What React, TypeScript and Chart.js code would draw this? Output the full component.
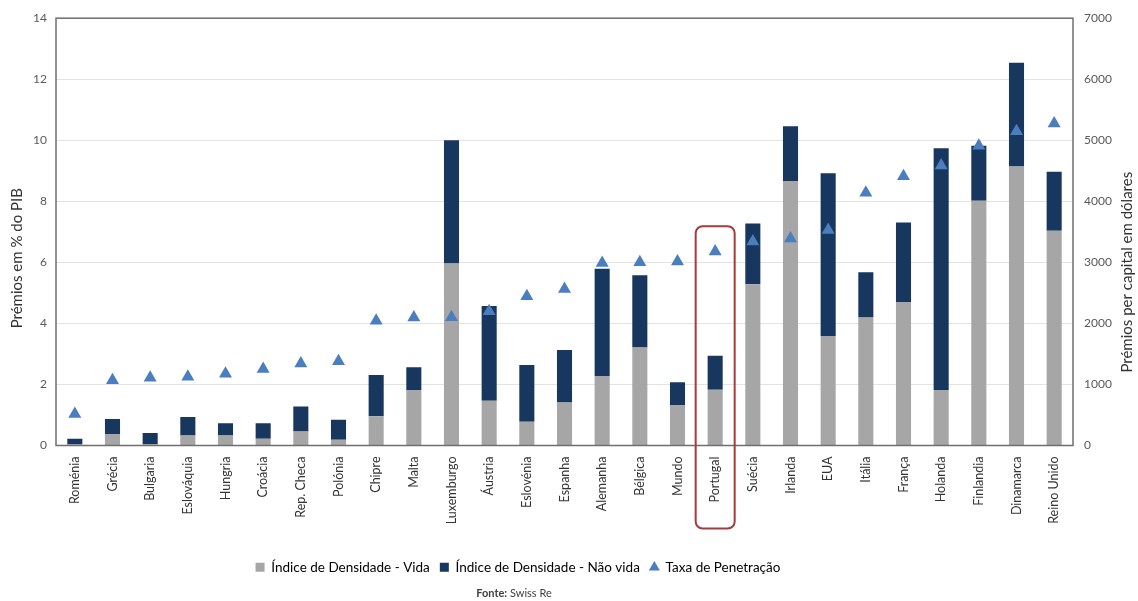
import React, { useEffect, useRef } from "react";
import { Chart, registerables } from "chart.js";

Chart.register(...registerables);

// Countries, ordered by insurance penetration
const countries = [
  "Roménia", "Grécia", "Bulgaria", "Eslováquia", "Hungria", "Croácia", "Rep. Checa",
  "Polónia", "Chipre", "Malta", "Luxemburgo", "Áustria", "Eslovénia", "Espanha",
  "Alemanha", "Bélgica", "Mundo", "Portugal", "Suécia", "Irlanda", "EUA", "Itália",
  "França", "Holanda", "Finlandia", "Dinamarca", "Reino Unido",
];

// Premiums per capita (USD), life business
const densidadeVida = [
  25, 190, 20, 165, 165, 110, 230, 95, 480, 910, 2980, 735, 390, 705,
  1140, 1605, 665, 915, 2640, 4335, 1795, 2095, 2350, 910, 4010, 4570, 3520,
];

// Premiums per capita (USD), non-life business
const densidadeNaoVida = [
  85, 245, 185, 300, 200, 255, 410, 325, 675, 370, 2020, 1550, 930, 860,
  1755, 1185, 370, 555, 995, 895, 2665, 745, 1305, 3960, 900, 1700, 965,
];

// Premiums as % of GDP
const taxaPenetracao = [
  1.03, 2.14, 2.22, 2.25, 2.35, 2.51, 2.69, 2.76, 4.09, 4.19, 4.2, 4.4, 4.89, 5.13,
  5.98, 6.0, 6.03, 6.36, 6.68, 6.78, 7.06, 8.28, 8.82, 9.17, 9.82, 10.3, 10.55,
];

const pctAxis = { max: 14, step: 2 };
const usdAxis = { max: 7000, step: 1000 };
const highlighted = "Portugal";

const GREY = "#a6a6a6";
const NAVY = "#17375e";
const BLUE = "#4a7ebf";
const FRAME = "#6f6f6f";
const FONT = "Lato";

const decorations = {
  id: "decorations",
  afterLayout(chart: any) {
    // the legend block sits left of the page centre
    const lg = chart.legend;
    if (lg) {
      lg.left -= 51;
      lg.right -= 51;
    }
  },
  afterDatasetsDraw(chart: any) {
    const { ctx, chartArea: a } = chart;
    ctx.save();
    ctx.strokeStyle = FRAME;
    ctx.lineWidth = 1.5;
    ctx.strokeRect(a.left, a.top, a.right - a.left, a.bottom - a.top);
    ctx.restore();
  },
  afterDraw(chart: any) {
    const { ctx, chartArea: a } = chart;
    ctx.save();

    // axis titles, both reading bottom to top
    ctx.fillStyle = "#333333";
    ctx.font = `15px ${FONT}`;
    ctx.textAlign = "center";
    ctx.textBaseline = "middle";
    ctx.save();
    ctx.translate(a.left - 39, a.top + 240);
    ctx.rotate(-Math.PI / 2);
    ctx.fillText("Prémios em % do PIB", 0, 0);
    ctx.restore();
    ctx.save();
    ctx.translate(a.right + 54, a.top + 254);
    ctx.rotate(-Math.PI / 2);
    ctx.fillText("Prémios per capital em dólares", 0, 0);
    ctx.restore();

    // rounded box around the highlighted country
    const x = chart.scales.x.getPixelForValue(countries.indexOf(highlighted));
    const bw = 39;
    const top = a.top + 208;
    const bottom = a.bottom + 83;
    ctx.strokeStyle = "#a93a3a";
    ctx.lineWidth = 2;
    ctx.beginPath();
    ctx.roundRect(x - bw / 2, top, bw, bottom - top, 7);
    ctx.stroke();

    // source note
    const cx = 514;
    const cy = chart.height - 8;
    ctx.textAlign = "left";
    ctx.fillStyle = "#404040";
    ctx.font = `bold 11px ${FONT}`;
    const w1 = ctx.measureText("Fonte:").width;
    ctx.font = `11px ${FONT}`;
    const w2 = ctx.measureText(" Swiss Re").width;
    const start = cx - (w1 + w2) / 2;
    ctx.font = `bold 11px ${FONT}`;
    ctx.fillText("Fonte:", start, cy);
    ctx.font = `11px ${FONT}`;
    ctx.fillText(" Swiss Re", start + w1, cy);
    ctx.restore();
  },
};

export default function App() {
  const canvasRef = useRef<HTMLCanvasElement | null>(null);

  useEffect(() => {
    const canvas = canvasRef.current;
    if (!canvas) return;
    Chart.defaults.font.family = FONT;

    const chart = new Chart(canvas, {
      type: "bar",
      data: {
        labels: countries,
        datasets: [
          {
            type: "bar",
            label: "Índice de Densidade - Vida",
            data: densidadeVida,
            backgroundColor: GREY,
            yAxisID: "usd",
            stack: "densidade",
            order: 1,
            categoryPercentage: 0.8,
            barPercentage: 0.5,
          },
          {
            type: "bar",
            label: "Índice de Densidade - Não vida",
            data: densidadeNaoVida,
            backgroundColor: NAVY,
            yAxisID: "usd",
            stack: "densidade",
            order: 1,
            categoryPercentage: 0.8,
            barPercentage: 0.5,
          },
          {
            type: "line",
            label: "Taxa de Penetração",
            data: taxaPenetracao,
            yAxisID: "pct",
            showLine: false,
            pointStyle: "triangle",
            pointRadius: 7.5,
            pointBackgroundColor: BLUE,
            pointBorderColor: BLUE,
            pointBorderWidth: 0,
            backgroundColor: BLUE,
            borderColor: BLUE,
            order: 0,
          },
        ],
      },
      options: {
        responsive: false,
        animation: false,
        devicePixelRatio: 1,
        layout: { padding: { top: 16, bottom: 17, left: 0, right: 0 } },
        plugins: {
          tooltip: { enabled: false },
          legend: {
            position: "bottom",
            labels: {
              usePointStyle: true,
              boxWidth: 9,
              boxHeight: 9,
              padding: 10,
              color: "#404040",
              font: { family: FONT, size: 13.5 },
              sort: (a: any, b: any) => a.datasetIndex - b.datasetIndex,
              generateLabels: (chart: any) =>
                chart.data.datasets.map((ds: any, i: number) => ({
                  text: ds.label,
                  fillStyle: ds.backgroundColor,
                  strokeStyle: ds.backgroundColor,
                  lineWidth: 0,
                  pointStyle: ds.type === "line" ? "triangle" : "rect",
                  datasetIndex: i,
                  hidden: false,
                })),
            },
          },
        },
        scales: {
          x: {
            stacked: true,
            grid: { display: false, drawTicks: false },
            border: { display: false },
            ticks: {
              autoSkip: false,
              minRotation: 90,
              maxRotation: 90,
              padding: 11,
              color: "#333333",
              font: { family: FONT, size: 12.5 },
            },
            afterFit: (s: any) => {
              s.height = 105;
            },
          },
          pct: {
            position: "left",
            min: 0,
            max: pctAxis.max,
            grid: { color: "#e3e3e3", lineWidth: 1, drawTicks: false },
            border: { display: false },
            ticks: {
              stepSize: pctAxis.step,
              padding: 9,
              color: "#595959",
              font: { family: FONT, size: 12 },
            },
            afterFit: (s: any) => {
              s.width = 56;
            },
          },
          usd: {
            position: "right",
            stacked: true,
            min: 0,
            max: usdAxis.max,
            grid: { display: false, drawTicks: false },
            border: { display: false },
            ticks: {
              stepSize: usdAxis.step,
              padding: 11,
              color: "#595959",
              font: { family: FONT, size: 12 },
              callback: (v: any) => String(v),
            },
            afterFit: (s: any) => {
              s.width = 65;
            },
          },
        },
      },
      plugins: [decorations],
    });

    return () => chart.destroy();
  }, []);

  return (
    <div style={{ position: "fixed", left: 0, top: 0, width: 1138, height: 601, background: "#ffffff" }}>
      <canvas ref={canvasRef} width={1138} height={601} style={{ width: 1138, height: 601, display: "block" }} />
    </div>
  );
}
